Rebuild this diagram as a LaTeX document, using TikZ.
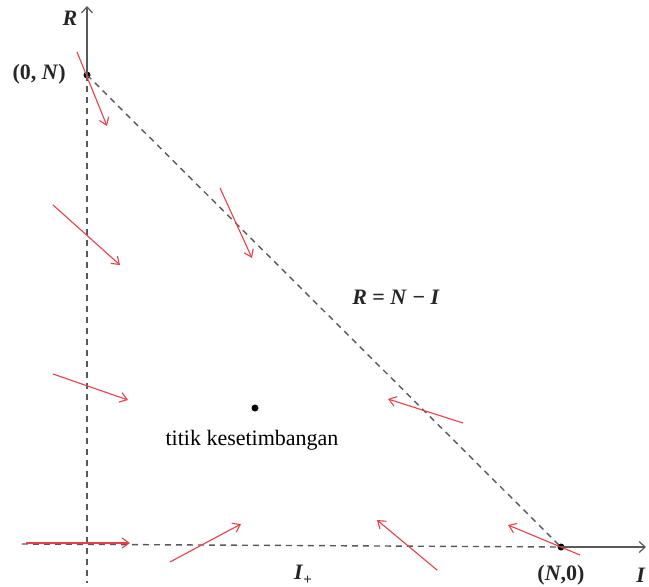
\documentclass[tikz,border=0pt]{standalone}
\usepackage{fontspec}
\setmainfont{Liberation Serif}
\usetikzlibrary{arrows.meta}
\definecolor{flowred}{HTML}{E8404A}
\begin{document}
\begin{tikzpicture}[x=1pt,y=-1pt,
  axis/.style={draw=black!65,line width=1.2pt,-{Straight Barb[length=6pt,width=11pt]}},
  dline/.style={draw=black!65,line width=1.4pt,dash pattern=on 6pt off 5pt},
  flow/.style={draw=flowred,line width=1.1pt,-{Straight Barb[length=7pt,width=10pt]}},
  lbl/.style={font=\fontsize{22}{26}\selectfont,inner sep=0pt},
  mlbl/.style={font=\fontsize{22}{26}\selectfont\bfseries,inner sep=0pt,text=black!85},
  pt/.style={circle,fill=black,inner sep=0pt,minimum size=7pt}]
\useasboundingbox (0,0) rectangle (649,587);
% points
\node[pt] (top) at (87,75) {};
\node[pt] (right) at (561,547) {};
\node[pt] (eq) at (255,408) {};
\coordinate (ytip) at (87,6);
\coordinate (xtip) at (646,547);
\coordinate (vbot) at (87,583);
\coordinate (hleft) at (22,544);
% axes
\draw[axis] (top.center) -- (ytip);
\draw[axis] (right.center) -- (xtip);
\draw[dline] (top.center) -- (vbot);
\draw[dline] (hleft) -- (right.center);
\draw[dline] (top.center) -- (right.center);
% labels
\node[mlbl] (lR) at (70,18) {\textit{R}};
\node[mlbl,anchor=east] (l0N) at (66,74) {(0, \textit{N})};
\node[mlbl] (lN0) at (561,575) {(\textit{N},0)};
\node[mlbl] (lI) at (641,575) {\textit{I}};
\node[mlbl] (lIp) at (303,575) {\textit{I}\raisebox{-5pt}{\fontsize{15}{16}\selectfont\textbf{+}}};
\node[mlbl] (lline) at (396,297) {\textit{R} = \textit{N} − \textit{I}};
\node[lbl] (leq) at (252,440) {titik kesetimbangan};
% flow arrows
\coordinate (a1) at (77,52);   \coordinate (b1) at (107,126);
\coordinate (a2) at (53,205);  \coordinate (b2) at (120,265);
\coordinate (a3) at (53,374);  \coordinate (b3) at (128,400);
\coordinate (a4) at (26,543);  \coordinate (b4) at (130,543);
\coordinate (a5) at (170,562); \coordinate (b5) at (241,524);
\coordinate (a6) at (437,570); \coordinate (b6) at (377,520);
\coordinate (a7) at (580,555); \coordinate (b7) at (508,525);
\coordinate (a8) at (463,423); \coordinate (b8) at (388,399);
\coordinate (a9) at (220,188); \coordinate (b9) at (252,258);
\foreach \i in {1,...,9} \draw[flow] (a\i) -- (b\i);
\end{tikzpicture}
\end{document}
